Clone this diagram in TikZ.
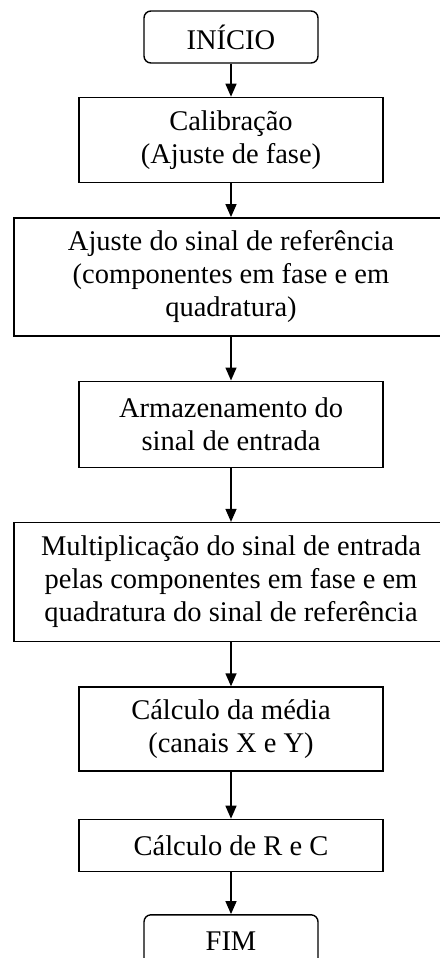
\documentclass[tikz,border=0pt]{standalone}
\usepackage{fontspec}
\setmainfont{Liberation Serif}
\usetikzlibrary{arrows.meta,positioning}
\tikzset{term/.style={draw, rounded corners=7pt, minimum width=174pt, minimum height=52pt}}
\tikzset{proc/.style={draw, minimum width=304pt, align=center}}
\tikzset{wideproc/.style={proc, minimum width=434pt}}

\begin{document}
\begin{tikzpicture}[>={Triangle[length=13pt,width=11pt]}, line width=1.4pt, inner sep=2pt, font=\fontsize{28.5}{33}\selectfont]
\useasboundingbox (0,0) rectangle (439pt,-958pt);
\node[term] (inicio) at (231pt,-37pt) {INÍCIO};
\node[proc, minimum height=85pt][below=33pt of inicio] (calib) {Calibração\\(Ajuste de fase)};
\node[wideproc, minimum height=118pt][below=34pt of calib] (ajuste) {Ajuste do sinal de referência\\(componentes em fase e em\\quadratura)};
\node[proc, minimum height=86pt][below=44pt of ajuste] (armaz) {Armazenamento do\\sinal de entrada};
\node[wideproc, minimum height=119pt][below=54pt of armaz] (mult) {Multiplicação do sinal de entrada\\pelas componentes em fase e em\\quadratura do sinal de referência};
\node[proc, minimum height=84pt][below=44pt of mult] (media) {Cálculo da média\\(canais X e Y)};
\node[proc, minimum height=52pt][below=47pt of media] (calc) {Cálculo de R e C};
\node[term][below=42pt of calc] (fim) {FIM};
\path[->] (inicio) edge (calib)
	(calib) edge (ajuste)
	(ajuste) edge (armaz)
	(armaz) edge (mult)
	(mult) edge (media)
	(media) edge (calc)
	(calc) edge (fim);
\end{tikzpicture}
\end{document}
